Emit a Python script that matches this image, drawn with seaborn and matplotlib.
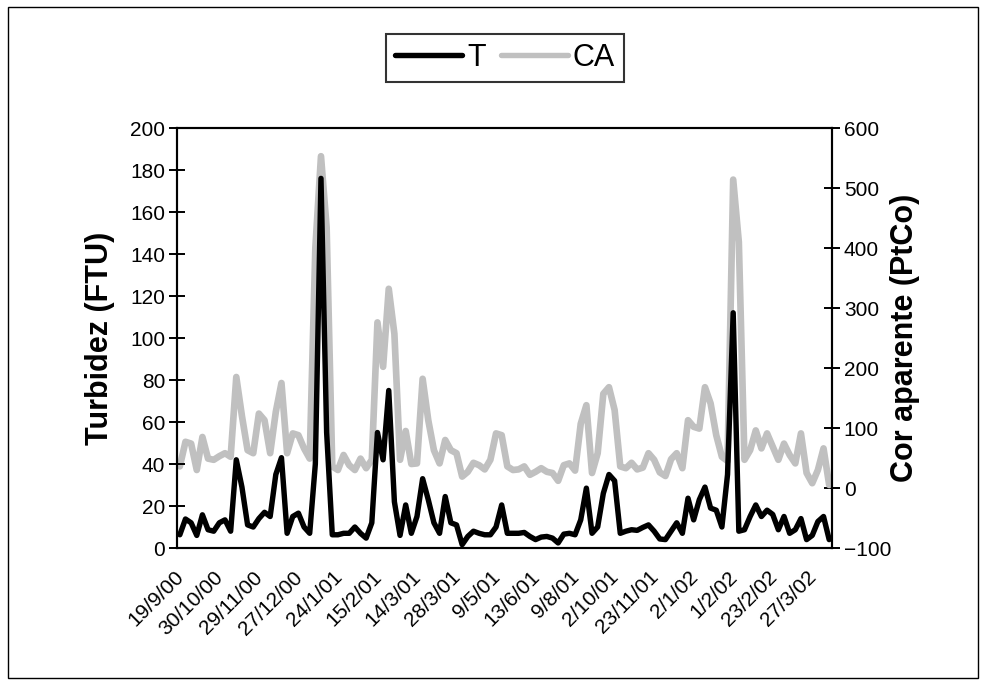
import numpy as np
import pandas as pd
import seaborn as sns
import matplotlib
matplotlib.use("Agg")
import matplotlib.pyplot as plt
from matplotlib.lines import Line2D
from matplotlib.patches import Rectangle
from matplotlib.transforms import ScaledTranslation

# Turbidez (FTU), one value per sampling date
T = [6.3, 13.8, 12, 6, 15.8, 8.7, 8, 12, 13.4, 8,
     42, 29, 11, 10, 14, 17, 15, 35, 43, 7,
     15, 16.6, 10, 7, 40, 176, 55, 6.3, 6.3, 7,
     7, 10, 7, 4.7, 12, 55, 42, 75, 22, 6,
     20.5, 7, 15, 33, 23, 12, 7, 24.5, 12, 11,
     1.6, 5.5, 8, 7, 6.3, 6.3, 10, 20.5, 7, 7,
     7, 7.4, 5.5, 4, 5.2, 5.5, 4.7, 2.4, 6.6, 7,
     6.3, 13.4, 28.5, 7, 10, 26, 35, 32, 7, 8,
     8.7, 8.4, 9.8, 11, 8, 4.3, 4, 8, 12, 7,
     23.7, 13.4, 23, 29, 19, 18, 10, 35, 112, 8,
     8.7, 15, 20.5, 15, 18, 16, 8.7, 15, 7, 8.7,
     14, 4, 6, 12.6, 15, 4]

# Cor aparente (PtCo), same dates
CA = [36, 77, 74, 30, 85, 49, 47, 53, 58, 52,
      185, 120, 63, 58, 124, 113, 58, 127, 175, 58,
      91, 88, 66, 49, 400, 553, 434, 36, 30, 55,
      38, 30, 49, 33, 47, 276, 202, 332, 257, 47,
      95, 40, 41, 182, 113, 63, 41, 80, 63, 58,
      19, 27, 42, 38, 31, 47, 91, 88, 36, 30,
      31, 36, 22, 27, 33, 27, 25, 12, 38, 41,
      29, 107, 138, 25, 58, 157, 168, 130, 36, 33,
      42, 31, 34, 58, 47, 26, 20, 48, 58, 33,
      113, 102, 99, 168, 141, 88, 52, 45, 514, 410,
      47, 63, 96, 66, 91, 69, 47, 74, 55, 41,
      91, 25, 8, 30, 66, 5]

# Dates shown on the category axis (every 7th sample)
date_labels = ["19/9/00", "30/10/00", "29/11/00", "27/12/00", "24/1/01",
               "15/2/01", "14/3/01", "28/3/01", "9/5/01", "13/6/01",
               "9/8/01", "2/10/01", "23/11/01", "2/1/02", "1/2/02",
               "23/2/02", "27/3/02"]
label_step = 7

left_ticks = list(range(0, 201, 20))
right_ticks = list(range(-100, 601, 100))

sns.set_theme(style="white")
plt.rcParams["font.family"] = ["Liberation Sans", "DejaVu Sans"]
plt.rcParams.update({"text.color": "black", "axes.labelcolor": "black",
                     "xtick.color": "black", "ytick.color": "black"})

df = pd.DataFrame({"amostra": np.arange(len(T)), "T": T, "CA": CA})
n = len(df)

fig = plt.figure(figsize=(9.85, 6.85), dpi=100)
ax = fig.add_axes([177 / 985, 1 - 548 / 685, 655 / 985, 420 / 685])
ax2 = ax.twinx()

GRAY = "#C0C0C0"
sns.lineplot(data=df, x="amostra", y="CA", ax=ax2, color=GRAY, lw=4.8,
             legend=False, solid_joinstyle="round", solid_capstyle="round")
sns.lineplot(data=df, x="amostra", y="T", ax=ax, color="black", lw=3.9,
             legend=False, solid_joinstyle="round", solid_capstyle="round")

# black series drawn above the gray one
ax.set_zorder(ax2.get_zorder() + 1)
ax.patch.set_visible(False)

ax.set_xlim(-0.5, n - 0.5)
ax.set_ylim(0, 200)
ax2.set_ylim(-100, 600)
ax.set_yticks(left_ticks)
ax2.set_yticks(right_ticks)

# category tick marks at the boundaries, labels on selected samples
ax.set_xticks(np.arange(-0.5, n, 1.0), minor=True)
ax.set_xticks(np.arange(0, len(date_labels) * label_step, label_step))
ax.set_xticklabels(date_labels, rotation=45, ha="right",
                   rotation_mode="anchor", fontsize=15)
ax.tick_params(axis="x", which="minor", direction="inout", length=9,
               width=1.4, color="black")
ax.tick_params(axis="x", which="major", length=0, pad=14)
shift = ScaledTranslation(-4 / 72, 0, fig.dpi_scale_trans)
for lab in ax.get_xticklabels():
    lab.set_transform(lab.get_transform() + shift)

ax.tick_params(axis="y", direction="inout", length=11, width=1.4,
               labelsize=15, color="black", pad=3)
ax2.tick_params(axis="y", direction="inout", length=11, width=1.4,
                labelsize=15, color="black", pad=3)

for a in (ax, ax2):
    for sp in a.spines.values():
        sp.set_color("black")
        sp.set_linewidth(1.5)
    a.set_xlabel("")

ax.set_ylabel("Turbidez (FTU)", fontsize=22, fontweight="bold")
ax2.set_ylabel("Cor aparente (PtCo)", fontsize=22, fontweight="bold")
ax.yaxis.set_label_coords((100 - 177) / 655, 0.5)
ax2.yaxis.set_label_coords((905 - 177) / 655, 0.5)
for lab in (ax.yaxis.label, ax2.yaxis.label):
    lab.set_va("center")
    lab.set_ha("center")

handles = [Line2D([], [], color="black", lw=3.9, solid_capstyle="round"),
           Line2D([], [], color=GRAY, lw=3.9, solid_capstyle="round")]
leg = fig.legend(handles, ["T", "CA"], loc="center",
                 bbox_to_anchor=(505 / 985, 1 - 58 / 685),
                 bbox_transform=fig.transFigure, ncol=2, fontsize=22,
                 frameon=True, fancybox=False, edgecolor="black",
                 handlelength=2.2, handletextpad=0.15, columnspacing=0.5,
                 borderpad=0.3, borderaxespad=0)
leg.get_frame().set_linewidth(1.5)

fig.patches.append(Rectangle((8 / 985, 7 / 685), 970 / 985, 671 / 685,
                             transform=fig.transFigure, fill=False,
                             edgecolor="black", linewidth=1))

fig.savefig("out.png", dpi=100, facecolor="white")
